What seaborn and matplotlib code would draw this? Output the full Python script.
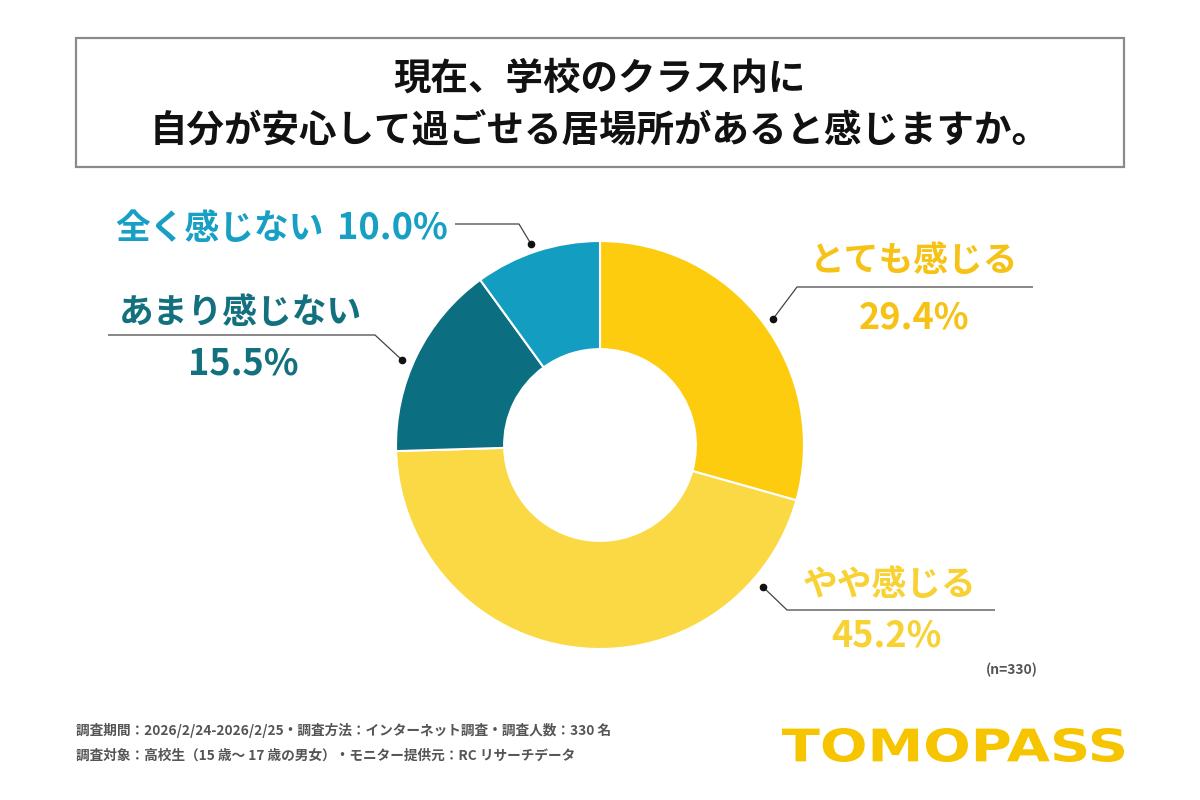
import matplotlib
matplotlib.use("Agg")
import matplotlib.pyplot as plt
import seaborn as sns
from matplotlib.patches import Rectangle, PathPatch
from matplotlib.textpath import TextPath
from matplotlib.font_manager import FontProperties
from matplotlib.transforms import Affine2D

# data
labels = ["とても感じる", "やや感じる", "あまり感じない", "全く感じない"]
values = [29.4, 45.2, 15.5, 10.0]
colors = ["#FDCC0F", "#FAD944", "#0B6F81", "#139EC1"]
text_colors = ["#F6C215", "#F8D132", "#12707F", "#17A0C4"]
title_lines = ["現在、学校のクラス内に", "自分が安心して過ごせる居場所があると感じますか。"]
notes = ["調査期間：2026/2/24-2026/2/25・調査方法：インターネット調査・調査人数：330 名",
         "調査対象：高校生（15 歳～ 17 歳の男女）・モニター提供元：RC リサーチデータ"]
n_label = "(n=330)"
brand = "TOMOPASS"

sns.set_theme(style="white")
plt.rcParams['font.family'] = ['Noto Sans CJK JP', 'DejaVu Sans']

W, H = 1200, 800
Y = lambda y: H - y  # pixel rows -> data y

fig = plt.figure(figsize=(12, 8), dpi=100)
fig.patch.set_facecolor("white")
ax = fig.add_axes([0, 0, 1, 1])

# donut
cx, cy, R = 600, 445, 204
ax.pie(values, colors=colors, startangle=90, counterclock=False,
       center=(cx, Y(cy)), radius=R,
       wedgeprops=dict(width=R * 0.53, edgecolor="white", linewidth=1.5))
ax.set_xlim(0, W)
ax.set_ylim(0, H)
ax.set_aspect("equal")
ax.axis("off")

# title box
ax.add_patch(Rectangle((76, Y(167)), 1048, 129, fill=False, edgecolor="#8a8a8a", linewidth=1.6))
ax.text(600, Y(78), title_lines[0], ha="center", va="center", fontsize=27, fontweight="bold", color="#111111")
ax.text(600, Y(131), title_lines[1], ha="center", va="center", fontsize=27, fontweight="bold", color="#111111")

# leader lines
lc = "#444444"
leaders = [
    [(773, 319), (797, 287), (1033, 287)],
    [(763, 587), (787, 610), (995, 610)],
    [(402, 360), (375, 335), (108, 335)],
    [(531, 244), (519, 224), (455, 224)],
]
for pts in leaders:
    xs = [p[0] for p in pts]
    ys = [Y(p[1]) for p in pts]
    ax.plot(xs, ys, color=lc, linewidth=0.9, solid_capstyle="butt")
    ax.plot(xs[0], ys[0], "o", color="#111111", markersize=4.5)

fs = 25
pfs = 26
# とても感じる
ax.text(914, Y(260), labels[0], ha="center", va="center", fontsize=fs, fontweight="bold", color=text_colors[0])
ax.text(914, Y(318), f"{values[0]:.1f}%", ha="center", va="center", fontsize=pfs, fontweight="bold", color=text_colors[0])
# やや感じる
ax.text(890, Y(585), labels[1], ha="center", va="center", fontsize=fs, fontweight="bold", color=text_colors[1])
ax.text(886, Y(636), f"{values[1]:.1f}%", ha="center", va="center", fontsize=pfs, fontweight="bold", color=text_colors[1])
# あまり感じない
ax.text(240, Y(312), labels[2], ha="center", va="center", fontsize=fs, fontweight="bold", color=text_colors[2])
ax.text(243, Y(364), f"{values[2]:.1f}%", ha="center", va="center", fontsize=pfs, fontweight="bold", color=text_colors[2])
# 全く感じない
ax.text(324, Y(228), labels[3], ha="right", va="center", fontsize=fs, fontweight="bold", color=text_colors[3])
ax.text(448, Y(228), f"{values[3]:.1f}%", ha="right", va="center", fontsize=pfs, fontweight="bold", color=text_colors[3])

ax.text(1038, Y(670), n_label, ha="right", va="center", fontsize=10, fontweight="bold", color="#555555")

# footer notes
ax.text(76, Y(731), notes[0], ha="left", va="center", fontsize=9.85, fontweight="bold", color="#555555")
ax.text(76, Y(756), notes[1], ha="left", va="center", fontsize=9.85, fontweight="bold", color="#555555")

# brand logo, stretched to its box
tp = TextPath((0, 0), brand, size=40, prop=FontProperties(family="DejaVu Sans", weight="bold"))
ext = tp.get_extents()
x0, x1, y0, y1 = 782, 1124, Y(762), Y(728)
tr = (Affine2D().translate(-ext.x0, -ext.y0)
      .scale((x1 - x0) / ext.width, (y1 - y0) / ext.height)
      .translate(x0, y0))
ax.add_patch(PathPatch(tr.transform_path(tp), facecolor="#F6C500", edgecolor="none"))

fig.savefig("out.png", dpi=100, facecolor="white")
